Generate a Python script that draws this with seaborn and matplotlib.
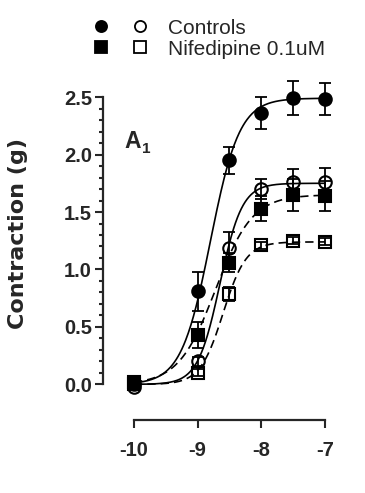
import numpy as np
import pandas as pd
import seaborn as sns
import matplotlib
matplotlib.use("Agg")
import matplotlib.pyplot as plt
from matplotlib.ticker import FixedLocator
from matplotlib.lines import Line2D
from matplotlib.legend_handler import HandlerTuple

# log concentration (M)
log_conc = [-10, -9, -8.5, -8, -7.5, -7]

# mean contraction (g) and SEM
ctrl_filled = [0.00, 0.81, 1.95, 2.36, 2.49, 2.48]
ctrl_filled_err = [0.02, 0.17, 0.12, 0.14, 0.15, 0.14]
ctrl_open = [-0.02, 0.20, 1.19, 1.70, 1.76, 1.76]
ctrl_open_err = [0.01, 0.04, 0.14, 0.09, 0.11, 0.12]
nif_filled = [0.02, 0.43, 1.06, 1.53, 1.65, 1.64]
nif_filled_err = [0.01, 0.11, 0.08, 0.11, 0.14, 0.13]
nif_open = [0.00, 0.10, 0.79, 1.21, 1.25, 1.24]
nif_open_err = [0.01, 0.03, 0.06, 0.03, 0.03, 0.03]

# sigmoid fit parameters (top, logEC50, hill slope) for each curve
fit_top = [2.49, 1.75, 1.65, 1.24]
fit_ec50 = [-8.80, -8.65, -8.72, -8.60]
fit_hill = [1.9, 2.5, 1.5, 2.4]

series = ["ctrl_filled", "ctrl_open", "nif_filled", "nif_open"]
means = [ctrl_filled, ctrl_open, nif_filled, nif_open]
errs = [ctrl_filled_err, ctrl_open_err, nif_filled_err, nif_open_err]
markers = ["o", "o", "s", "s"]
filled = [True, False, True, False]
linestyles = ["-", "-", (0, (5, 3)), (0, (5, 3))]

sns.set_style("ticks")
plt.rcParams["font.family"] = ["Liberation Sans", "DejaVu Sans"]

fig = plt.figure(figsize=(3.65, 4.93), dpi=100)
ax = fig.add_axes([0.2822, 0.197, 0.643, 0.641])

xs = np.linspace(-10, -7, 300)
curves = []
for name, top, ec, h in zip(series, fit_top, fit_ec50, fit_hill):
    curves.append(pd.DataFrame({"x": xs, "y": top / (1 + 10 ** ((ec - xs) * h)), "s": name}))
curve_df = pd.concat(curves)

for i, name in enumerate(series):
    sub = curve_df[curve_df["s"] == name]
    sns.lineplot(data=sub, x="x", y="y", ax=ax, color="black", lw=1.2,
                 linestyle=linestyles[i], legend=False)

for i, name in enumerate(series):
    ax.errorbar(log_conc, means[i], yerr=errs[i], fmt="none", ecolor="black",
                elinewidth=1.3, capsize=4.3, capthick=1.3, zorder=3, clip_on=False)
    ax.plot(log_conc, means[i], linestyle="none", marker=markers[i],
            markersize=9 if markers[i] == "o" else 8.5,
            markerfacecolor="black" if filled[i] else "none",
            markeredgecolor="black", markeredgewidth=1.5, zorder=4, clip_on=False)

ax.set_xlim(-10.487, -6.8)
ax.set_ylim(-0.1, 2.65)
ax.set_xticks([-10, -9, -8, -7])
ax.set_yticks([0.0, 0.5, 1.0, 1.5, 2.0, 2.5])
ax.set_xlabel("")
ax.set_ylabel("Contraction (g)", fontsize=16, fontweight="bold",
              family="DejaVu Sans")
ax.yaxis.set_label_coords(-0.32, 0.515)

sns.despine(ax=ax, trim=True, offset={"left": 0, "bottom": 17.4})
ax.set_xticklabels(["-10", "-9", "-8", "-7"], fontweight="bold")
ax.set_yticklabels(["0.0", "0.5", "1.0", "1.5", "2.0", "2.5"], fontweight="bold")
ax.yaxis.set_minor_locator(FixedLocator([v / 10 for v in range(1, 25) if v % 5]))
ax.tick_params(axis="both", which="major", length=6, width=1.5, labelsize=14.5)
ax.tick_params(axis="x", which="major", pad=9)
ax.tick_params(axis="y", which="major", pad=2)
ax.tick_params(axis="y", which="minor", length=3, width=1.5)
for sp in ["left", "bottom"]:
    ax.spines[sp].set_linewidth(1.6)

ax.text(-10.15, 2.06, "A", fontsize=16.5, fontweight="bold", va="baseline", ha="left")
ax.text(-9.88, 2.015, "1", fontsize=11, fontweight="bold", va="baseline", ha="left")

def proxy(marker, fill):
    return Line2D([], [], linestyle="none", marker=marker, markersize=8,
                  markerfacecolor="black" if fill else "none",
                  markeredgecolor="black", markeredgewidth=1.3)

fig.legend([(proxy("o", True), proxy("o", False)), (proxy("s", True), proxy("s", False))],
           ["Controls", "Nifedipine 0.1uM"],
           handler_map={tuple: HandlerTuple(ndivide=None, pad=1.15)},
           loc="upper left", bbox_to_anchor=(0.233, 0.979), frameon=False,
           fontsize=15, handlelength=2.6, handletextpad=1.0, labelspacing=0.1,
           borderaxespad=0)

fig.savefig("out.png", dpi=100)
